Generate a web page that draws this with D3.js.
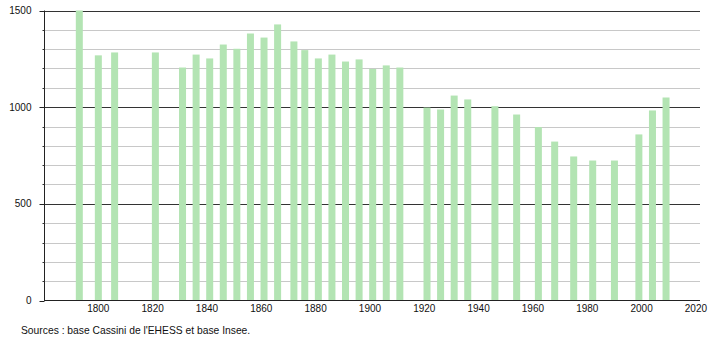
<!DOCTYPE html>
<html>
<head>
<meta charset="utf-8">
<script src="https://cdn.jsdelivr.net/npm/d3@7"></script>
<style>
  body { margin: 0; background: #fff; }
  svg { display: block; font-family: "Liberation Sans", Arial, sans-serif; }
</style>
</head>
<body>
<div id="chart"></div>
<script>
// census years and population counts
const years = [1793, 1800, 1806, 1821, 1831, 1836, 1841, 1846, 1851, 1856, 1861, 1866,
               1872, 1876, 1881, 1886, 1891, 1896, 1901, 1906, 1911, 1921, 1926, 1931,
               1936, 1946, 1954, 1962, 1968, 1975, 1982, 1990, 1999, 2004, 2009];
const population = [1500, 1268, 1283, 1283, 1205, 1272, 1252, 1324, 1302, 1381, 1360, 1428,
                    1340, 1295, 1252, 1272, 1236, 1247, 1198, 1216, 1205, 998, 988, 1060,
                    1040, 1005, 962, 897, 822, 745, 724, 724, 859, 983, 1050];
const yearTicks = [1800, 1820, 1840, 1860, 1880, 1900, 1920, 1940, 1960, 1980, 2000, 2020];
const popTicks = [0, 500, 1000, 1500];
const source = "Sources : base Cassini de l'EHESS et base Insee.";

const data = years.map((y, i) => ({ year: y, value: population[i] }));

const width = 710, height = 340;
const plotLeft = 44, plotRight = 700, plotTop = 10.5, plotBottom = 300.5;

const x = d3.scaleLinear().domain([1780, 2021.5]).range([plotLeft, plotRight]);
const y = d3.scaleLinear().domain([0, 1500]).range([plotBottom, plotTop]);

const svg = d3.select("#chart").append("svg")
    .attr("width", width)
    .attr("height", height);

const snap = v => Math.round(y(v)) + 0.5;

// minor grid every 100, major every 500
const minor = d3.range(100, 1500, 100).filter(v => v % 500 !== 0);
svg.append("g")
    .selectAll("line")
    .data(minor)
    .join("line")
        .attr("x1", plotLeft).attr("x2", plotRight)
        .attr("y1", snap).attr("y2", snap)
        .attr("stroke", "#c8c8c8");

svg.append("g")
    .selectAll("line")
    .data(popTicks.filter(d => d > 0))
    .join("line")
        .attr("x1", plotLeft).attr("x2", plotRight)
        .attr("y1", snap).attr("y2", snap)
        .attr("stroke", "#333");

// bars
const barW = 7;
svg.append("g")
    .selectAll("rect")
    .data(data)
    .join("rect")
        .attr("x", d => x(d.year) - barW / 2)
        .attr("width", barW)
        .attr("y", d => y(d.value))
        .attr("height", d => y(0) - y(d.value))
        .attr("fill", "#b3e4b3");

// y axis
const yAxis = svg.append("g").attr("transform", `translate(${plotLeft + 0.5},0)`);
yAxis.append("line")
    .attr("y1", plotTop).attr("y2", plotBottom)
    .attr("stroke", "#222");
yAxis.selectAll(".minor")
    .data(minor)
    .join("line")
        .attr("class", "minor")
        .attr("x1", -2).attr("x2", 0)
        .attr("y1", snap).attr("y2", snap)
        .attr("stroke", "#333");
yAxis.selectAll(".major")
    .data(popTicks)
    .join("line")
        .attr("class", "major")
        .attr("x1", -5).attr("x2", 0)
        .attr("y1", snap).attr("y2", snap)
        .attr("stroke", "#222");
yAxis.selectAll("text")
    .data(popTicks)
    .join("text")
        .attr("x", -13)
        .attr("y", d => y(d))
        .attr("dy", "0.35em")
        .attr("text-anchor", "end")
        .attr("font-size", 10)
        .attr("fill", "#111")
        .text(d => d);

// x axis
svg.append("line")
    .attr("x1", plotLeft).attr("x2", plotRight)
    .attr("y1", plotBottom).attr("y2", plotBottom)
    .attr("stroke", "#222");
svg.append("g")
    .selectAll("text")
    .data(yearTicks)
    .join("text")
        .attr("x", d => x(d))
        .attr("y", 312)
        .attr("text-anchor", "middle")
        .attr("font-size", 10)
        .attr("fill", "#111")
        .text(d => d);

svg.append("text")
    .attr("x", 21)
    .attr("y", 334)
    .attr("font-size", 10.3)
    .attr("fill", "#111")
    .text(source);
</script>
</body>
</html>
